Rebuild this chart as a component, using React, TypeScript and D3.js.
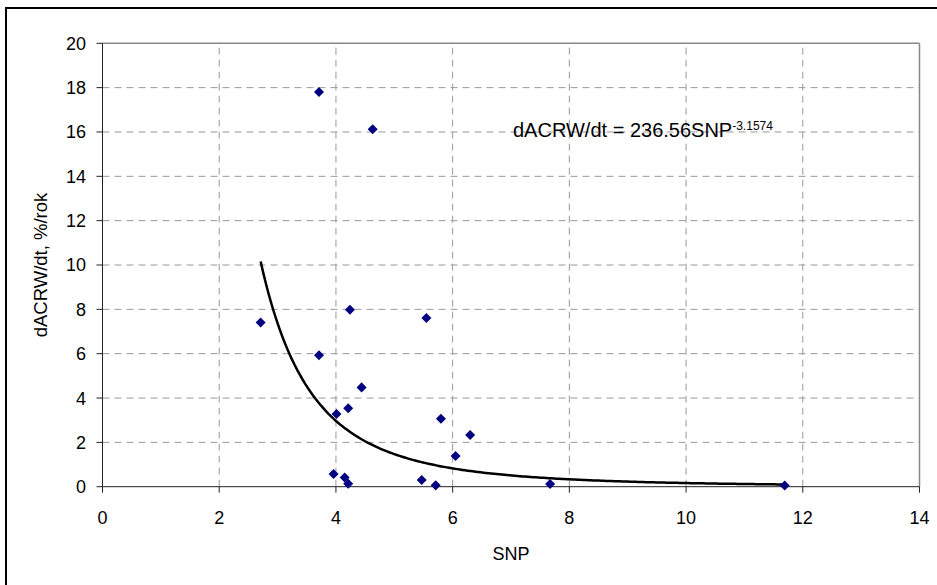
import React from "react";
import * as d3 from "d3";

const snp = [2.71, 3.71, 3.71, 4.01, 4.21, 3.96, 4.15, 4.21, 4.24, 4.44, 4.63, 5.47, 5.55, 5.71, 5.80, 6.05, 6.30, 7.67, 11.69];
const rate = [7.41, 17.8, 5.93, 3.28, 3.54, 0.57, 0.42, 0.13, 7.98, 4.48, 16.12, 0.30, 7.61, 0.06, 3.07, 1.38, 2.33, 0.12, 0.05];
const xTicks = [0, 2, 4, 6, 8, 10, 12, 14];
const yTicks = [0, 2, 4, 6, 8, 10, 12, 14, 16, 18, 20];
const TREND_A = 236.56;
const TREND_B = -3.1574;

export default function App() {
  const W = 937, H = 585;
  const x = d3.scaleLinear().domain([0, 14]).range([102.5, 919.5]);
  const y = d3.scaleLinear().domain([0, 20]).range([486.7, 43.3]);
  const xMin = d3.min(snp) as number;
  const xMax = d3.max(snp) as number;
  const trendX = d3.range(0, 201).map((i) => xMin + ((xMax - xMin) * i) / 200);
  const line = d3
    .line<number>()
    .x((d) => x(d))
    .y((d) => y(TREND_A * Math.pow(d, TREND_B)));
  const diamond = d3.symbol().type(d3.symbolDiamond2).size(64)();
  const font = "'Liberation Sans', Arial, sans-serif";
  return (
    <svg width={W} height={H} style={{ position: "absolute", left: 0, top: 0 }} fontFamily={font}>
      <rect x={0} y={0} width={W} height={H} fill="#fff" />
      <rect x={6} y={8} width={W + 10} height={H + 10} fill="none" stroke="#000" strokeWidth={2} />
      {/* gridlines */}
      {yTicks.filter((t) => t > 0 && t < 20).map((t) => (
        <line key={"gy" + t} x1={x(0)} x2={x(14)} y1={y(t)} y2={y(t)} stroke="#999" strokeWidth={1} strokeDasharray="7,5" />
      ))}
      {xTicks.filter((t) => t > 0 && t < 14).map((t) => (
        <line key={"gx" + t} x1={x(t)} x2={x(t)} y1={y(0)} y2={y(20)} stroke="#999" strokeWidth={1} strokeDasharray="7,5" />
      ))}
      {/* plot border top/right */}
      <line x1={x(0)} x2={x(14)} y1={y(20)} y2={y(20)} stroke="#888" strokeWidth={1.5} />
      <line x1={x(14)} x2={x(14)} y1={y(20)} y2={y(0)} stroke="#888" strokeWidth={1.5} />
      {/* axes */}
      <line x1={x(0)} x2={x(14)} y1={y(0)} y2={y(0)} stroke="#222" strokeWidth={1} />
      <line x1={x(0)} x2={x(0)} y1={y(0)} y2={y(20)} stroke="#222" strokeWidth={1} />
      {yTicks.map((t) => (
        <g key={"yt" + t}>
          <line x1={x(0) - 6} x2={x(0)} y1={y(t)} y2={y(t)} stroke="#222" />
          <text x={86} y={y(t)} dy="0.36em" textAnchor="end" fontSize={18}>{t}</text>
        </g>
      ))}
      {xTicks.map((t) => (
        <g key={"xt" + t}>
          <line x1={x(t)} x2={x(t)} y1={y(0)} y2={y(0) + 6} stroke="#222" />
          <text x={x(t)} y={524} textAnchor="middle" fontSize={18}>{t}</text>
        </g>
      ))}
      <text x={(x(0) + x(14)) / 2} y={560} textAnchor="middle" fontSize={18}>SNP</text>
      <text transform={`translate(47, ${(y(0) + y(20)) / 2}) rotate(-90)`} textAnchor="middle" fontSize={18.5}>dACRW/dt, %/rok</text>
      {/* trendline */}
      <path d={line(trendX) || ""} fill="none" stroke="#000" strokeWidth={2.5} />
      {/* points */}
      {snp.map((s, i) => (
        <path key={"p" + i} d={diamond || ""} transform={`translate(${x(s)},${y(rate[i])})`} fill="#000080" />
      ))}
      <text x={513} y={137} fontSize={20}>
        dACRW/dt = 236.56SNP<tspan dy={-7} fontSize={12}>-3.1574</tspan>
      </text>
    </svg>
  );
}
